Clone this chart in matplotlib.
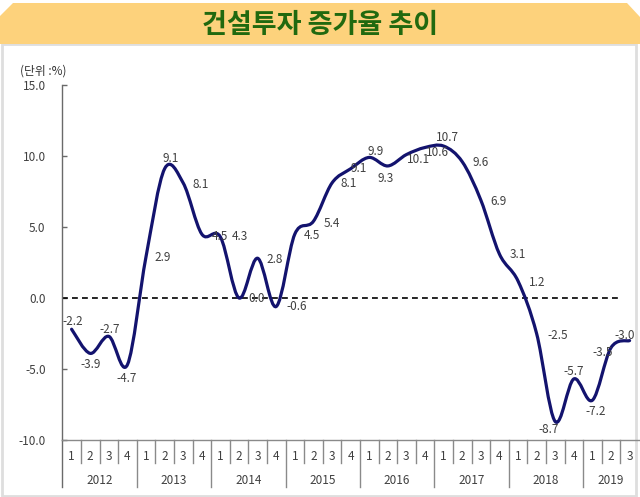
import matplotlib
matplotlib.use("Agg")
import matplotlib.pyplot as plt
from matplotlib.path import Path
from matplotlib.patches import PathPatch, Polygon, Rectangle
import matplotlib.transforms as mtransforms
import numpy as np

plt.rcParams['font.family'] = ['Noto Sans CJK KR', 'DejaVu Sans']

# ---------------- data ----------------
title = "건설투자 증가율 추이"
unit_label = "(단위 :%)"
years = ["2012", "2013", "2014", "2015", "2016", "2017", "2018", "2019"]
quarters_per_year = [4, 4, 4, 4, 4, 4, 4, 3]
values = [-2.2, -3.9, -2.7, -4.7,
          2.9, 9.1, 8.1, 4.5,
          4.3, 0.0, 2.8, -0.6,
          4.5, 5.4, 8.1, 9.1,
          9.9, 9.3, 10.1, 10.6,
          10.7, 9.6, 6.9, 3.1,
          1.2, -2.5, -8.7, -5.7,
          -7.2, -3.5, -3.0]
ytick_values = [-10, -5, 0, 5, 10, 15]
ytick_labels = ["-10.0", "-5.0", "0.0", "5.0", "10.0", "15.0"]

# label offsets in pixels (dx, dy) relative to each point
label_offsets = [(1, 8), (0, -11), (1, 7), (-1, -14),
                 (17, -1), (6, 10), (17, -2), (18, -2),
                 (19, 0), (18, -1), (17, -1), (21, 0),
                 (17, -1), (18, -2), (17, -1), (8, 0),
                 (6, 6), (-2, -13), (12, -5), (12, -5),
                 (4, 9), (18, -1), (18, -1), (18, -1),
                 (19, -2), (21, -2), (-7, -8), (0, 7),
                 (3, -11), (-8, -5), (-5, 5)]

# ---------------- figure ----------------
W, H = 640, 497
fig = plt.figure(figsize=(W / 100, H / 100), dpi=100)
fig.patch.set_facecolor("white")

def fx(px):
    return px / W

def fy(py):
    return 1 - py / H

# panel border
fig.patches.append(Rectangle((fx(1.5), fy(496)), fx(636) - fx(1.5), fy(44) - fy(496),
                             transform=fig.transFigure, facecolor="white",
                             edgecolor="#dedede", lw=2.0, zorder=-2))
# banner
banner = [(0, 44), (0, 16), (13, 3), (627, 3), (640, 17), (640, 44)]
fig.patches.append(Polygon([(fx(x), fy(y)) for x, y in banner], closed=True,
                           transform=fig.transFigure, facecolor="#FDD27C",
                           edgecolor="none", zorder=-1))
fig.text(fx(320), fy(25), title, ha="center", va="center", fontsize=19.5,
         fontweight="bold", color="#21690F")
fig.text(fx(20), fy(71), unit_label, ha="left", va="center", fontsize=8.5,
         color="#333333")

ax = fig.add_axes([fx(62.3), fy(440), fx(638.9) - fx(62.3), fy(85) - fy(440)])
ax.set_facecolor("none")
n = len(values)
x = np.arange(n)
ax.set_xlim(-0.5, n - 0.5)
ax.set_ylim(-10, 15)

for s in ["top", "right"]:
    ax.spines[s].set_visible(False)
ax.spines["left"].set_color("#6a6a6a")
ax.spines["bottom"].set_color("#8a8a8a")
ax.spines["left"].set_linewidth(1.0)
ax.spines["bottom"].set_linewidth(1.0)
ax.set_xticks([])
ax.set_yticks(ytick_values)
ax.set_yticklabels(ytick_labels)
ax.tick_params(axis="y", direction="in", length=3.5, width=1.0, color="#6a6a6a",
               labelsize=8.5, labelcolor="#404040", pad=12)

# zero dashed line
ax.plot([-0.5, 29.6], [0, 0], color="black", lw=1.2, ls=(0, (3.5, 2.5)), zorder=2)

# smoothed line (cubic Bezier, Excel-like)
pts = list(zip(x.astype(float), values))
verts = [pts[0]]
codes = [Path.MOVETO]
for i in range(n - 1):
    p0 = pts[i - 1] if i > 0 else pts[i]
    p1 = pts[i]
    p2 = pts[i + 1]
    p3 = pts[i + 2] if i + 2 < n else pts[i + 1]
    c1 = (p1[0] + (p2[0] - p0[0]) / 6, p1[1] + (p2[1] - p0[1]) / 6)
    c2 = (p2[0] - (p3[0] - p1[0]) / 6, p2[1] - (p3[1] - p1[1]) / 6)
    verts += [c1, c2, p2]
    codes += [Path.CURVE4] * 3
ax.add_patch(PathPatch(Path(verts, codes), facecolor="none", edgecolor="#13136E",
                       lw=2.3, zorder=3, capstyle="round", joinstyle="round"))

# data labels
for xi, v, (dx, dy) in zip(x, values, label_offsets):
    ax.annotate(f"{v:.1f}", (xi, v), xytext=(dx, dy), textcoords="offset pixels",
                ha="center", va="center", fontsize=8.5, color="#404040", zorder=4)

# category axis
trans = mtransforms.blended_transform_factory(ax.transData, fig.transFigure)
start = 0
for yr, nq in zip(years, quarters_per_year):
    for q in range(nq):
        xi = start + q
        ax.text(xi, fy(457), str(q + 1), transform=trans, ha="center", va="center",
                fontsize=8.5, color="#404040")
        if q > 0:
            ax.plot([xi - 0.5, xi - 0.5], [fy(440), fy(463)], transform=trans,
                    color="#8a8a8a", lw=1.0, clip_on=False)
    ax.text(start + (nq - 1) / 2, fy(480), yr, transform=trans, ha="center",
            va="center", fontsize=8.5, color="#404040")
    ax.plot([start - 0.5, start - 0.5], [fy(440), fy(487)], transform=trans,
            color="#6a6a6a" if start == 0 else "#8a8a8a", lw=1.0, clip_on=False)
    start += nq

fig.savefig("out.png", dpi=100)
